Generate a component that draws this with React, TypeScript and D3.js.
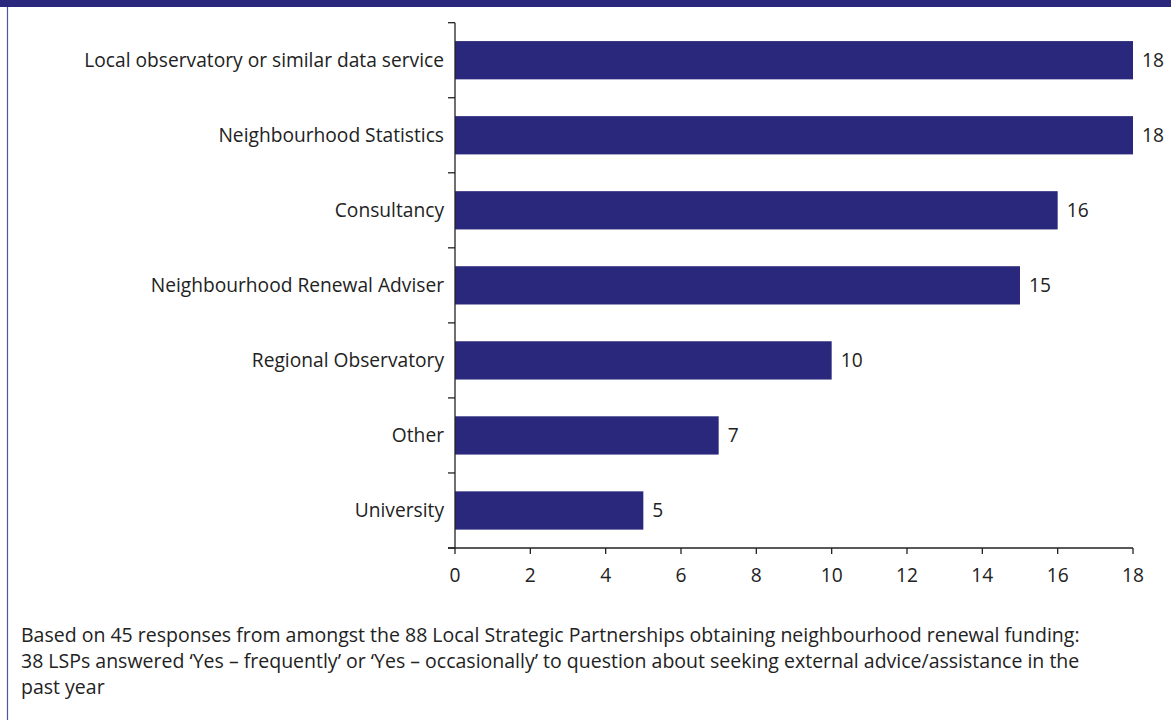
import React from "react";
import * as d3 from "d3";

const categories = [
  "Local observatory or similar data service",
  "Neighbourhood Statistics",
  "Consultancy",
  "Neighbourhood Renewal Adviser",
  "Regional Observatory",
  "Other",
  "University",
];
const values = [18, 18, 16, 15, 10, 7, 5];
const xTicks = [0, 2, 4, 6, 8, 10, 12, 14, 16, 18];
const noteLines = [
  "Based on 45 responses from amongst the 88 Local Strategic Partnerships obtaining neighbourhood renewal funding:",
  "38 LSPs answered \u2018Yes \u2013 frequently\u2019 or \u2018Yes \u2013 occasionally\u2019 to question about seeking external advice/assistance in the",
  "past year",
];

const W = 1171;
const H = 720;
const NAVY = "#2a287c";
const FONT = "'Open Sans', 'Noto Sans', sans-serif";

export default function App() {
  const x = d3.scaleLinear().domain([0, 18]).range([455, 1133]);
  const y = d3.scaleBand<string>().domain(categories).range([22.7, 548]).paddingInner(0.49).paddingOuter(0.245);
  const bandEdges = d3.range(categories.length + 1).map((i) => 22.7 + i * ((548 - 22.7) / categories.length));
  const axisY = 548;

  return (
    <svg width={W} height={H} style={{ position: "absolute", left: 0, top: 0, display: "block" }} fontFamily={FONT}>
      <rect x={0} y={0} width={W} height={H} fill="#fff" />
      <rect x={0} y={0} width={W} height={7} fill={NAVY} />
      <line x1={7.5} x2={7.5} y1={7} y2={H} stroke="#5553a0" strokeWidth={1.2} />

      {categories.map((c, i) => (
        <g key={c}>
          <rect x={x(0)} y={y(c)} width={x(values[i]) - x(0)} height={y.bandwidth()} fill={NAVY} />
          <text x={x(values[i]) + 9} y={(y(c) as number) + y.bandwidth() / 2} dy="0.36em" fontSize={19.2} fill="#222">
            {values[i]}
          </text>
          <text x={444} y={(y(c) as number) + y.bandwidth() / 2} dy="0.36em" fontSize={19.2} fill="#222" textAnchor="end">
            {c}
          </text>
        </g>
      ))}

      <line x1={x(0)} x2={x(0)} y1={bandEdges[0]} y2={axisY} stroke="#222" strokeWidth={1.3} />
      {bandEdges.map((b, i) => (
        <line key={i} x1={x(0) - 7} x2={x(0)} y1={b} y2={b} stroke="#222" strokeWidth={1.3} />
      ))}
      <line x1={x(0) - 7} x2={x(18)} y1={axisY} y2={axisY} stroke="#222" strokeWidth={1.3} />
      {xTicks.map((t) => (
        <g key={t}>
          <line x1={x(t)} x2={x(t)} y1={axisY} y2={axisY + 6} stroke="#222" strokeWidth={1.3} />
          <text x={x(t)} y={582} fontSize={19.2} fill="#222" textAnchor="middle">
            {t}
          </text>
        </g>
      ))}

      {noteLines.map((l, i) => (
        <text key={i} x={21} y={642 + i * 26} fontSize={19.5} fill="#222">
          {l}
        </text>
      ))}
    </svg>
  );
}
